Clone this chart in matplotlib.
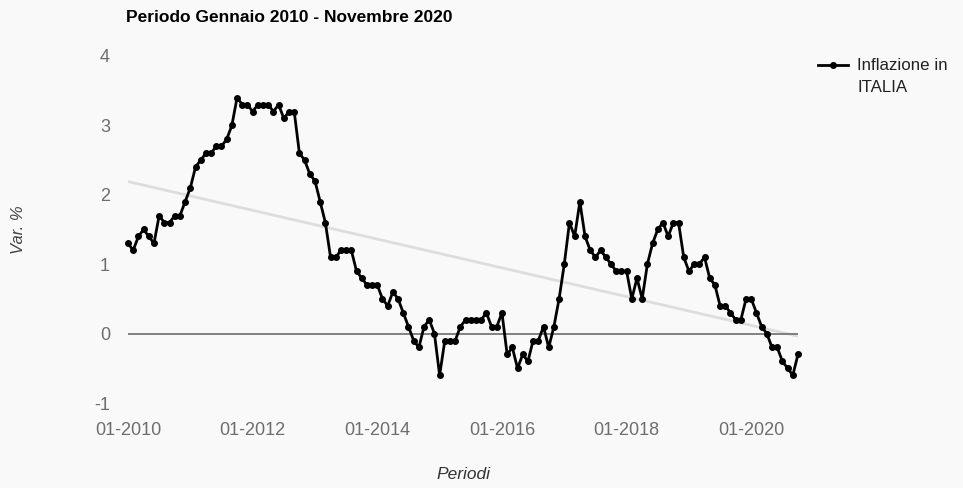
import numpy as np
import matplotlib.pyplot as plt
from matplotlib.lines import Line2D

plt.rcParams['font.family'] = ['Liberation Sans', 'DejaVu Sans']
plt.rcParams['axes.unicode_minus'] = False

# inflazione mensile (var. % tendenziale), gen 2010 - ott 2020
inf_2010 = [1.3, 1.2, 1.4, 1.5, 1.4, 1.3, 1.7, 1.6, 1.6, 1.7, 1.7, 1.9]
inf_2011 = [2.1, 2.4, 2.5, 2.6, 2.6, 2.7, 2.7, 2.8, 3.0, 3.4, 3.3, 3.3]
inf_2012 = [3.2, 3.3, 3.3, 3.3, 3.2, 3.3, 3.1, 3.2, 3.2, 2.6, 2.5, 2.3]
inf_2013 = [2.2, 1.9, 1.6, 1.1, 1.1, 1.2, 1.2, 1.2, 0.9, 0.8, 0.7, 0.7]
inf_2014 = [0.7, 0.5, 0.4, 0.6, 0.5, 0.3, 0.1, -0.1, -0.2, 0.1, 0.2, 0.0]
inf_2015 = [-0.6, -0.1, -0.1, -0.1, 0.1, 0.2, 0.2, 0.2, 0.2, 0.3, 0.1, 0.1]
inf_2016 = [0.3, -0.3, -0.2, -0.5, -0.3, -0.4, -0.1, -0.1, 0.1, -0.2, 0.1, 0.5]
inf_2017 = [1.0, 1.6, 1.4, 1.9, 1.4, 1.2, 1.1, 1.2, 1.1, 1.0, 0.9, 0.9]
inf_2018 = [0.9, 0.5, 0.8, 0.5, 1.0, 1.3, 1.5, 1.6, 1.4, 1.6, 1.6, 1.1]
inf_2019 = [0.9, 1.0, 1.0, 1.1, 0.8, 0.7, 0.4, 0.4, 0.3, 0.2, 0.2, 0.5]
inf_2020 = [0.5, 0.3, 0.1, 0.0, -0.2, -0.2, -0.4, -0.5, -0.6, -0.3]

values = np.array(inf_2010 + inf_2011 + inf_2012 + inf_2013 + inf_2014 + inf_2015
                  + inf_2016 + inf_2017 + inf_2018 + inf_2019 + inf_2020)
months = np.arange(len(values))

tick_pos = [0, 24, 48, 72, 96, 120]
tick_labels = ["01-2010", "01-2012", "01-2014", "01-2016", "01-2018", "01-2020"]

bg = '#f9f9f9'
W, H = 963, 488
fig = plt.figure(figsize=(W / 100, H / 100), dpi=100, facecolor=bg)
ax = fig.add_axes([128 / W, (H - 403) / H, (798 - 128) / W, (403 - 56) / H])
ax.set_facecolor(bg)

# retta di tendenza
a, b = np.polyfit(months, values, 1)
ax.plot(months[[0, -1]], a * months[[0, -1]] + b, color='#dddddd', lw=2, zorder=1)

ax.axhline(0, color='#777777', lw=1.3, zorder=2)
ax.plot(months, values, color='black', lw=2, marker='o', markersize=4, zorder=3,
        clip_on=False)

ax.set_xlim(0, months[-1])
ax.set_ylim(-1, 4)
ax.set_yticks([-1, 0, 1, 2, 3, 4])
ax.set_xticks(tick_pos, tick_labels)
ax.tick_params(length=0, labelsize=13, colors='#6e6e6e')
ax.tick_params(axis='y', pad=13)
ax.tick_params(axis='x', pad=14)
for s in ax.spines.values():
    s.set_visible(False)

ax.set_xlabel("Periodi", fontsize=12.5, style='italic', color='#333333', labelpad=20)
ax.set_ylabel("Var. %", fontsize=12, style='italic', color='#444444', labelpad=49)

fig.text(126 / W, 1 - 18 / H, "Periodo Gennaio 2010 - Novembre 2020", fontsize=12.5,
         fontweight='bold', color='black', va='center', ha='left')

# legenda
fig.add_artist(Line2D([818 / W, 848 / W], [1 - 65 / H, 1 - 65 / H], color='black', lw=2))
fig.add_artist(Line2D([833 / W], [1 - 65 / H], color='black', marker='o', markersize=4))
fig.text(857 / W, 1 - 65 / H, "Inflazione in", fontsize=12.2, color='#222222', va='center')
fig.text(857 / W, 1 - 88 / H, "ITALIA", fontsize=12.2, color='#222222', va='center')

fig.savefig("out.png", dpi=100, facecolor=bg)
